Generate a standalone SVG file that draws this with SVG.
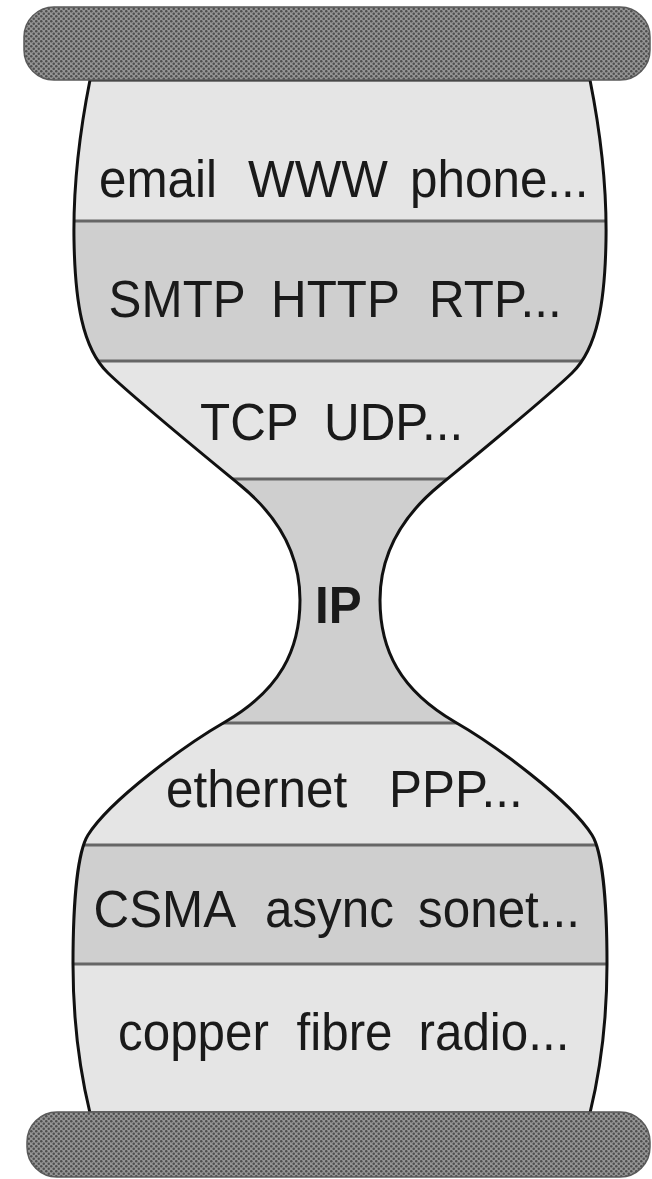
<svg xmlns="http://www.w3.org/2000/svg" width="652" height="1179" viewBox="0 0 652 1179">
<style>
.lt{fill:#e5e5e5}
.dk{fill:#cfcfcf}
.sep{stroke:#666;stroke-width:3;fill:none}
.outline{fill:none;stroke:#111;stroke-width:3}
.bar{fill:url(#dots);stroke:#5a5a5a;stroke-width:1.5}
.lbl{font-family:"Liberation Sans",Arial,sans-serif;font-size:52px;fill:#1a1a1a}
</style>
<defs>
<pattern id="dots" width="5" height="5" patternUnits="userSpaceOnUse">
<rect width="5" height="5" fill="#959595"/>
<circle cx="1.25" cy="1.25" r="1.25" fill="#4e4e4e"/>
<circle cx="3.75" cy="3.75" r="1.25" fill="#4e4e4e"/>
</pattern>
<path id="hg" d="M 90,80 C 80,130 73,180 74,240 C 75,300 82,348 108,373 C 135,399 200,452 240,485 C 273,512 300,550 300,600 C 300,650 280,690 225,722 C 185,745 110,800 88,835 C 78,851 73,900 73,964 C 73,1030 82,1080 90,1113 L 590,1113 C 598,1080 607,1030 607,964 C 607,900 602,851 592,835 C 570,800 495,745 455,722 C 400,690 380,650 380,600 C 380,550 407,512 440,485 C 480,452 545,399 572,373 C 598,348 605,300 606,240 C 607,180 600,130 590,80 Z"/>
<clipPath id="clip"><use href="#hg"/></clipPath>
</defs>
<g id="body" clip-path="url(#clip)">
<rect id="band-app" class="lt" x="0" y="78" width="652" height="143"/>
<rect id="band-proto" class="dk" x="0" y="221" width="652" height="140"/>
<rect id="band-transport" class="lt" x="0" y="361" width="652" height="118"/>
<rect id="band-ip" class="dk" x="0" y="479" width="652" height="244"/>
<rect id="band-link" class="lt" x="0" y="723" width="652" height="122"/>
<rect id="band-mac" class="dk" x="0" y="845" width="652" height="119"/>
<rect id="band-phys" class="lt" x="0" y="964" width="652" height="152"/>
<g id="separators">
<line class="sep" x1="0" y1="221" x2="652" y2="221"/>
<line class="sep" x1="0" y1="361" x2="652" y2="361"/>
<line class="sep" x1="0" y1="479" x2="652" y2="479"/>
<line class="sep" x1="0" y1="723" x2="652" y2="723"/>
<line class="sep" x1="0" y1="845" x2="652" y2="845"/>
<line class="sep" x1="0" y1="964" x2="652" y2="964"/>
</g>
</g>
<use href="#hg" class="outline"/>
<g id="top-bar"><rect class="bar" x="24" y="7" width="626" height="73" rx="30"/></g>
<g id="bottom-bar"><rect class="bar" x="27" y="1112" width="623" height="65" rx="30"/></g>
<g id="layer-app"><text class="lbl" transform="scale(0.95 1)" y="197"><tspan x="104.2">email</tspan> <tspan x="261.1">WWW</tspan> <tspan x="431.6">phone...</tspan></text></g>
<g id="layer-proto"><text class="lbl" transform="scale(0.95 1)" y="317"><tspan x="114.3">SMTP</tspan> <tspan x="285.3">HTTP</tspan> <tspan x="451.6">RTP...</tspan></text></g>
<g id="layer-transport"><text class="lbl" transform="scale(0.95 1)" y="440"><tspan x="210.5">TCP</tspan> <tspan x="341.1">UDP...</tspan></text></g>
<g id="layer-ip"><text class="lbl" transform="scale(0.95 1)" y="623" x="331.6" font-weight="bold">IP</text></g>
<g id="layer-link"><text class="lbl" transform="scale(0.95 1)" y="807"><tspan x="174.7">ethernet</tspan> <tspan x="409.5">PPP...</tspan></text></g>
<g id="layer-mac"><text class="lbl" transform="scale(0.95 1)" y="927"><tspan x="98.4">CSMA</tspan> <tspan x="278.9">async</tspan> <tspan x="440">sonet...</tspan></text></g>
<g id="layer-phys"><text class="lbl" transform="scale(0.95 1)" y="1050"><tspan x="124.2">copper</tspan> <tspan x="312.1">fibre</tspan> <tspan x="440.5">radio...</tspan></text></g>
<g id="connectors"/>
</svg>
